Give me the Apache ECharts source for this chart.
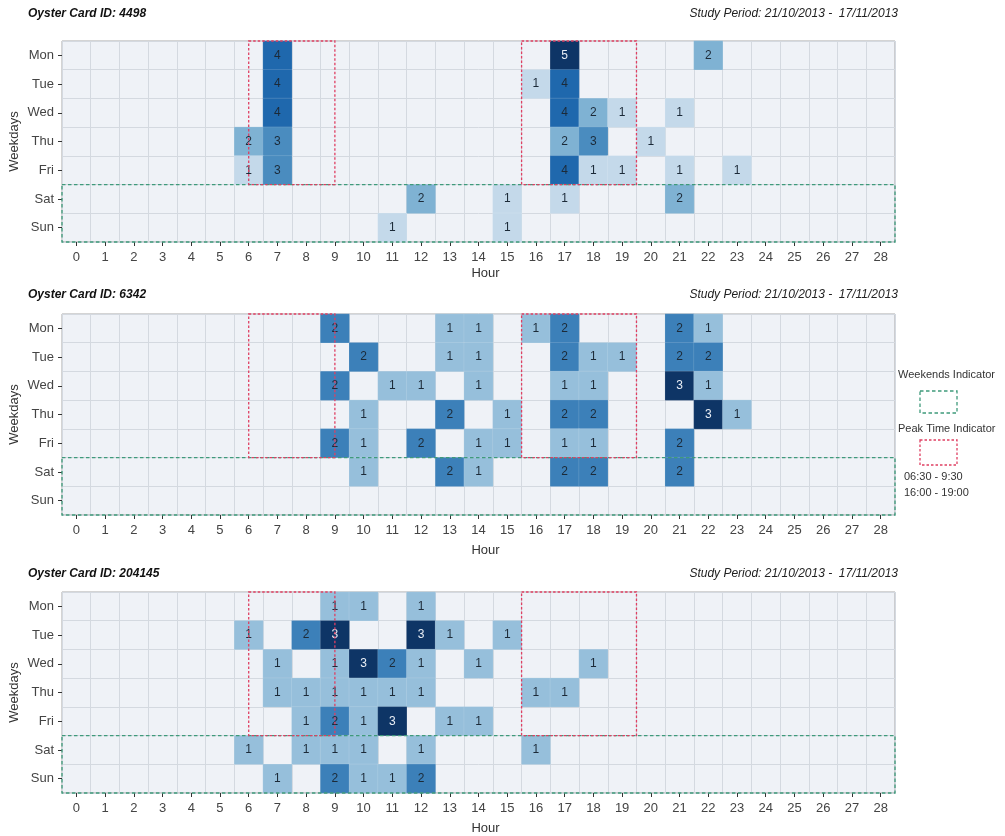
<!DOCTYPE html>
<html>
<head>
<meta charset="utf-8">
<script src="https://cdn.jsdelivr.net/npm/echarts@6/dist/echarts.min.js"></script>
<style>
html,body{margin:0;padding:0;background:#fff;}
#chart{width:1005px;height:836px;}
</style>
</head>
<body>
<div id="chart"></div>
<script>
// ---- data ----
const hours = ['0','1','2','3','4','5','6','7','8','9','10','11','12','13','14','15','16','17','18','19','20','21','22','23','24','25','26','27','28'];
const days = ['Mon','Tue','Wed','Thu','Fri','Sat','Sun'];
const cardIds = ['4498', '6342', '204145'];
const studyPeriod = 'Study Period: 21/10/2013 -  17/11/2013';

// [hour, dayIndex, trips]
const card4498 = [
  [7,0,4],[17,0,5],[22,0,2],
  [7,1,4],[16,1,1],[17,1,4],
  [7,2,4],[17,2,4],[18,2,2],[19,2,1],[21,2,1],
  [6,3,2],[7,3,3],[17,3,2],[18,3,3],[20,3,1],
  [6,4,1],[7,4,3],[17,4,4],[18,4,1],[19,4,1],[21,4,1],[23,4,1],
  [12,5,2],[15,5,1],[17,5,1],[21,5,2],
  [11,6,1],[15,6,1]
];
const card6342 = [
  [9,0,2],[13,0,1],[14,0,1],[16,0,1],[17,0,2],[21,0,2],[22,0,1],
  [10,1,2],[13,1,1],[14,1,1],[17,1,2],[18,1,1],[19,1,1],[21,1,2],[22,1,2],
  [9,2,2],[11,2,1],[12,2,1],[14,2,1],[17,2,1],[18,2,1],[21,2,3],[22,2,1],
  [10,3,1],[13,3,2],[15,3,1],[17,3,2],[18,3,2],[22,3,3],[23,3,1],
  [9,4,2],[10,4,1],[12,4,2],[14,4,1],[15,4,1],[17,4,1],[18,4,1],[21,4,2],
  [10,5,1],[13,5,2],[14,5,1],[17,5,2],[18,5,2],[21,5,2]
];
const card204145 = [
  [9,0,1],[10,0,1],[12,0,1],
  [6,1,1],[8,1,2],[9,1,3],[12,1,3],[13,1,1],[15,1,1],
  [7,2,1],[9,2,1],[10,2,3],[11,2,2],[12,2,1],[14,2,1],[18,2,1],
  [7,3,1],[8,3,1],[9,3,1],[10,3,1],[11,3,1],[12,3,1],[16,3,1],[17,3,1],
  [8,4,1],[9,4,2],[10,4,1],[11,4,3],[13,4,1],[14,4,1],
  [6,5,1],[8,5,1],[9,5,1],[10,5,1],[12,5,1],[16,5,1],
  [7,6,1],[9,6,2],[10,6,1],[11,6,1],[12,6,2]
];
const cards = [card4498, card6342, card204145];

// indicator boxes in axis units: [hourFrom, rowFrom, hourTo, rowTo]
const weekendBox = [-0.5, 4.5, 28.5, 6.5];
const peakBoxes = [[6, -0.5, 9, 4.5], [15.5, -0.5, 19.5, 4.5]];
const peakLabels = ['06:30 - 9:30', '16:00 - 19:00'];

// ---- layout ----
const gridTops = [41, 314, 592];
const gridH = 201;
const gridLeft = 62, gridW = 833;
const titleTops = [8, 289, 568];
const nameGaps = [25, 29, 29];
const FONT = '"Liberation Sans", Arial, Helvetica, sans-serif';
const GREEN = '#3f9a7b', RED = '#df3f62';
const colorStops = ['#eef2f7','#c4d9ea','#7fb2d3','#4a8cbf','#1f68ad','#0e3566'];

const grid = [], xAxis = [], yAxis = [], series = [], visualMap = [], title = [];

cards.forEach((data, i) => {
  const maxV = Math.max(...data.map(d => d[2]));
  grid.push({left: gridLeft, width: gridW, top: gridTops[i], height: gridH,
    containLabel: false, outerBoundsMode: 'none',
    show: true, backgroundColor: '#eff2f7', borderColor: '#a8a8a8', borderWidth: 1});
  xAxis.push({
    type: 'category', data: hours, gridIndex: i, position: 'bottom',
    name: 'Hour', nameLocation: 'middle', nameGap: nameGaps[i], nameMoveOverlap: false,
    nameTextStyle: {fontFamily: FONT, fontSize: 13, color: '#333', padding: [0, 0, 0, 14]},
    axisLine: {show: false, onZero: false},
    axisTick: {show: true, alignWithLabel: true, length: 4, lineStyle: {color: '#333'}},
    axisLabel: {fontFamily: FONT, fontSize: 13, color: '#444', margin: 9},
    splitLine: {show: true, lineStyle: {color: '#d4d9e0', width: 1}}
  });
  xAxis.push({type: 'value', gridIndex: i, min: -0.5, max: 28.5, show: false, position: 'top',
    axisLine: {onZero: false}});
  yAxis.push({
    type: 'category', data: days, gridIndex: i, inverse: true, position: 'left',
    name: 'Weekdays', nameLocation: 'middle', nameGap: 41, nameMoveOverlap: false,
    nameTextStyle: {fontFamily: FONT, fontSize: 13, color: '#333'},
    axisLine: {show: false, onZero: false},
    axisTick: {show: true, alignWithLabel: true, length: 4, lineStyle: {color: '#333'}},
    axisLabel: {fontFamily: FONT, fontSize: 13, color: '#444', margin: 8},
    splitLine: {show: true, lineStyle: {color: '#d4d9e0', width: 1}}
  });
  yAxis.push({type: 'value', gridIndex: i, min: -0.5, max: 6.5, inverse: true, show: false, position: 'right',
    axisLine: {onZero: false}});

  series.push({
    type: 'heatmap', xAxisIndex: 2 * i, yAxisIndex: 2 * i,
    data: data.map(d => ({
      value: [d[0], d[1], d[2]],
      label: {color: d[2] === maxV ? '#e9eef5' : '#1c2a38'}
    })),
    label: {show: true, fontFamily: FONT, fontSize: 12},
    itemStyle: {borderColor: 'rgba(255,255,255,0.12)', borderWidth: 1},
    emphasis: {disabled: true}
  });
  visualMap.push({type: 'continuous', show: false, min: 0, max: maxV,
    seriesIndex: series.length - 1, dimension: 2, inRange: {color: colorStops}});

  const boxes = [weekendBox.concat([0])].concat(peakBoxes.map(b => b.concat([1])));
  series.push({
    type: 'custom', xAxisIndex: 2 * i + 1, yAxisIndex: 2 * i + 1, z: 5, silent: true,
    clip: false,
    data: boxes,
    renderItem: function (params, api) {
      const p0 = api.coord([api.value(0), api.value(1)]);
      const p1 = api.coord([api.value(2), api.value(3)]);
      const peak = api.value(4) === 1;
      return {
        type: 'rect',
        shape: {x: Math.min(p0[0], p1[0]), y: Math.min(p0[1], p1[1]),
                width: Math.abs(p1[0] - p0[0]), height: Math.abs(p1[1] - p0[1])},
        style: {fill: 'none', stroke: peak ? RED : GREEN, lineWidth: 1.3,
                lineDash: peak ? [2.5, 2] : [3.5, 2.5]}
      };
    }
  });

  title.push({text: 'Oyster Card ID: ' + cardIds[i], left: 28, top: titleTops[i], padding: 0,
    textStyle: {fontFamily: FONT, fontSize: 12, fontWeight: 'bold', fontStyle: 'italic', color: '#111'}});
  title.push({text: studyPeriod, right: 107, top: titleTops[i], padding: 0,
    textStyle: {fontFamily: FONT, fontSize: 12, fontWeight: 'normal', fontStyle: 'italic', color: '#222'}});
});

const legendText = {fontFamily: FONT, fontSize: 11, fill: '#333', textVerticalAlign: 'middle'};
const graphic = [
  {type: 'text', left: 898, top: 369, style: Object.assign({text: 'Weekends Indicator'}, legendText)},
  {type: 'rect', shape: {x: 920, y: 391, width: 37, height: 22},
   style: {fill: 'none', stroke: GREEN, lineWidth: 1.3, lineDash: [3.5, 2.5]}},
  {type: 'text', left: 898, top: 423, style: Object.assign({text: 'Peak Time Indicator'}, legendText)},
  {type: 'rect', shape: {x: 920, y: 440, width: 37, height: 25},
   style: {fill: 'none', stroke: RED, lineWidth: 1.3, lineDash: [2.5, 2]}},
  {type: 'text', left: 904, top: 471, style: Object.assign({text: peakLabels[0]}, legendText)},
  {type: 'text', left: 904, top: 487, style: Object.assign({text: peakLabels[1]}, legendText)}
];

const chart = echarts.init(document.getElementById('chart'), null, {renderer: 'canvas'});
chart.setOption({
  animation: false,
  backgroundColor: '#ffffff',
  title, grid, xAxis, yAxis, visualMap, series, graphic
});
</script>
</body>
</html>
